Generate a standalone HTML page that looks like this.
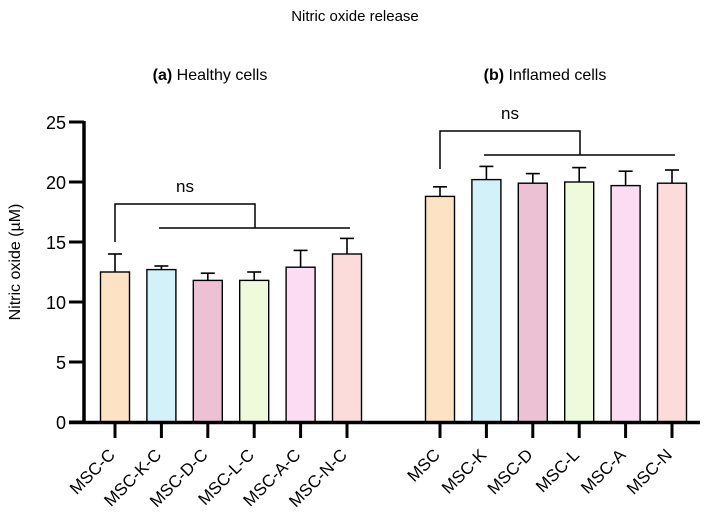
<!DOCTYPE html>
<html><head><meta charset="utf-8"><style>
body{margin:0;background:#fff;font-family:"Liberation Sans",Arial,sans-serif}
svg text{font-family:"Liberation Sans",Arial,sans-serif;fill:#000}
</style></head><body>
<svg width="711" height="514" viewBox="0 0 711 514">
<g id="root"></g>
</svg>
<script>
const categories=["MSC-C","MSC-K-C","MSC-D-C","MSC-L-C","MSC-A-C","MSC-N-C","MSC","MSC-K","MSC-D","MSC-L","MSC-A","MSC-N"];
const means=[12.5,12.7,11.8,11.8,12.9,14.0,18.8,20.2,19.9,20.0,19.7,19.9];
const errs=[1.5,0.3,0.6,0.7,1.4,1.3,0.8,1.1,0.8,1.2,1.2,1.1];
const colors=["#fde3c3","#d3f1f8","#ebc1d3","#eefadb","#fbdcf3","#fbdcdb"];
const yTicks=[0,5,10,15,20,25];
const NS="http://www.w3.org/2000/svg";
const root=document.getElementById('root');
function y(v){return 422-v*12;}
function xc(i){return i<6?115+i*46.4:440+(i-6)*46.4;}
function mk(t,a,txt){const e=document.createElementNS(NS,t);for(const k in a)e.setAttribute(k,a[k]);if(txt!==undefined)e.textContent=txt;root.appendChild(e);return e;}
let e;
e=mk('text',{x:355,y:21,'text-anchor':'middle','font-size':15},'Nitric oxide release');


e=mk('text',{x:210,y:80,'text-anchor':'middle','font-size':16});
e.innerHTML='<tspan font-weight="bold">(a)</tspan> Healthy cells';


e=mk('text',{x:545,y:80,'text-anchor':'middle','font-size':16});
e.innerHTML='<tspan font-weight="bold">(b)</tspan> Inflamed cells';


e=mk('text',{x:20,y:262,'text-anchor':'middle','font-size':16,transform:'rotate(-90 20 262)'},'Nitric oxide (µM)');


categories.forEach((c,i)=>{
  const x=xc(i),w=29,t=y(means[i]),et=y(means[i]+errs[i]);
  e=mk('line',{x1:x,x2:x,y1:t,y2:et,stroke:'#000','stroke-width':1.6});
  
  
  e=mk('line',{x1:x-7,x2:x+7,y1:et,y2:et,stroke:'#000','stroke-width':1.6});
  
  
  e=mk('rect',{x:x-w/2,y:t,width:w,height:422-t,fill:colors[i%6],stroke:'#000','stroke-width':1.4});
  
  
  e=mk('line',{x1:x,x2:x,y1:422,y2:438,stroke:'#000','stroke-width':3});
  
  
  e=mk('text',{x:x+1,y:456,'text-anchor':'end','font-size':17,transform:`rotate(-45 ${x+1} 456)`},c);
  
  
});
e=mk('line',{x1:84,x2:84,y1:121,y2:424,stroke:'#000','stroke-width':3.5});


e=mk('line',{x1:69,x2:700,y1:422.5,y2:422.5,stroke:'#000','stroke-width':3.5});


yTicks.forEach(v=>{
  e=mk('line',{x1:69,x2:84,y1:y(v),y2:y(v),stroke:'#000','stroke-width':3});
  
  
  e=mk('text',{x:66,y:y(v)+7,'text-anchor':'end','font-size':18},String(v));
  
  
});
function bracket(x0,yv,ytop,xm,x1,x2,yl,tx,ty,name){
  e=mk('polyline',{points:`${x0},${yv} ${x0},${ytop} ${xm},${ytop} ${xm},${yl}`,fill:'none',stroke:'#000','stroke-width':1.5});
  
  
  e=mk('line',{x1:x1,x2:x2,y1:yl,y2:yl,stroke:'#000','stroke-width':1.5});
  
  
  e=mk('text',{x:tx,y:ty,'text-anchor':'middle','font-size':17},'ns');
  
  
}
bracket(115,242,204,255,159,350,228,185,192,'healthy');
bracket(440,169,131,580,484,675,155,510,119,'inflamed');
</script>
</body></html>
